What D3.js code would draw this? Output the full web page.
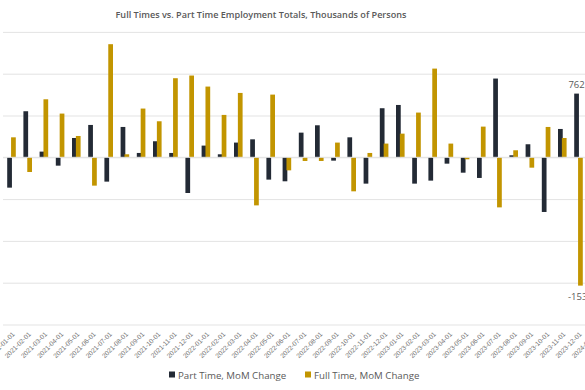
<!DOCTYPE html>
<html>
<head>
<meta charset="utf-8">
<script src="https://cdn.jsdelivr.net/npm/d3@7"></script>
<style>
  html, body { margin: 0; padding: 0; background: #fff; }
  svg { display: block; font-family: "Open Sans", "Noto Sans", sans-serif; }
</style>
</head>
<body>
<svg id="chart" width="585" height="390"></svg>
<script>
// months shown on the category axis
var months = ["2021-01-01","2021-02-01","2021-03-01","2021-04-01","2021-05-01","2021-06-01",
  "2021-07-01","2021-08-01","2021-09-01","2021-10-01","2021-11-01","2021-12-01",
  "2022-01-01","2022-02-01","2022-03-01","2022-04-01","2022-05-01","2022-06-01",
  "2022-07-01","2022-08-01","2022-09-01","2022-10-01","2022-11-01","2022-12-01",
  "2023-01-01","2023-02-01","2023-03-01","2023-04-01","2023-05-01","2023-06-01",
  "2023-07-01","2023-08-01","2023-09-01","2023-10-01","2023-11-01","2023-12-01",
  "2024-01-01"];

// part time, MoM change (thousands)
var partTime = [-363, 551, 68, -100, 231, 387, -291, 363, 52, 192, 52, -427,
  140, 36, 176, 215, -267, -287, 295, 383, -40, 239, -315, 587,
  626, -315, -279, -76, -184, -247, 942, 24, 156, -654, 339, 762];

// full time, MoM change (thousands)
var fullTime = [239, -176, 694, 523, 255, -339, 1353, 36, 583, 431, 946, 978,
  846, 507, 770, -575, 750, -156, -44, -44, 176, -407, 52, 164,
  283, 535, 1061, 164, -24, 367, -599, 84, -124, 363, 231, -1535];

var yTicks = [1500, 1000, 500, 0, -500, -1000, -1500, -2000];

var seriesNames = ["Part Time, MoM Change", "Full Time, MoM Change"];
var colors = ["#232a35", "#c29500"];

var svg = d3.select("#chart");

var x = d3.scaleBand()
    .domain(months)
    .range([3.4, 3.4 + months.length * 16.2])
    .paddingInner(0.47)
    .paddingOuter(0.235);

var y = d3.scaleLinear()
    .domain([-2000, 1500])
    .range([324.5, 31.9]);

var bw = x.bandwidth();
var barW = bw * 0.55;

// title
svg.append("text")
    .attr("x", 261)
    .attr("y", 18)
    .attr("text-anchor", "middle")
    .attr("font-size", 9.1)
    .attr("font-weight", 600)
    .attr("fill", "#595959")
    .text("Full Times vs. Part Time Employment Totals, Thousands of Persons");

// horizontal gridlines
svg.append("g")
    .attr("class", "gridy")
    .attr("transform", "translate(3,0)")
    .call(d3.axisLeft(y).tickValues(yTicks).tickSize(-590).tickFormat(""))
    .call(function (g) { g.select(".domain").remove(); })
    .selectAll("line")
    .attr("stroke", "#e3e3e3")
    .attr("stroke-width", 1);

// bars
var rows = partTime.map(function (d, i) {
    return { month: months[i], pt: d, ft: fullTime[i] };
});

svg.append("g").selectAll("rect")
    .data(rows)
    .join("rect")
    .attr("x", function (d) { return x(d.month); })
    .attr("width", barW)
    .attr("y", function (d) { return y(Math.max(0, d.pt)); })
    .attr("height", function (d) { return Math.abs(y(d.pt) - y(0)); })
    .attr("fill", colors[0]);

svg.append("g").selectAll("rect")
    .data(rows)
    .join("rect")
    .attr("x", function (d) { return x(d.month) + bw - barW; })
    .attr("width", barW)
    .attr("y", function (d) { return y(Math.max(0, d.ft)); })
    .attr("height", function (d) { return Math.abs(y(d.ft) - y(0)); })
    .attr("fill", colors[1]);

// zero line over the bars
svg.append("line")
    .attr("x1", 3).attr("x2", 585)
    .attr("y1", y(0)).attr("y2", y(0))
    .attr("stroke", "#e3e3e3");

// last value labels
var last = rows[rows.length - 1];
svg.append("text")
    .attr("x", x(last.month) + barW / 2)
    .attr("y", y(last.pt) - 6)
    .attr("text-anchor", "middle")
    .attr("font-size", 9.5)
    .attr("fill", "#595959")
    .text(last.pt);
svg.append("text")
    .attr("x", x(last.month) + bw - barW / 2)
    .attr("y", y(last.ft) + 14)
    .attr("text-anchor", "middle")
    .attr("font-size", 9.5)
    .attr("fill", "#595959")
    .text(last.ft);

// x axis labels
svg.append("g")
    .attr("class", "x axis")
    .attr("transform", "translate(0,330)")
    .call(d3.axisBottom(x).tickSize(0).tickPadding(0))
    .call(function (g) { g.select(".domain").remove(); })
    .selectAll("text")
    .attr("font-size", 6.6)
    .attr("fill", "#757575")
    .attr("text-anchor", "end")
    .attr("dy", "0.35em")
    .attr("transform", "translate(2,3) rotate(-45)");

// legend
var legend = svg.append("g").attr("transform", "translate(169,0)");
var legendX = [0, 136];
seriesNames.forEach(function (name, i) {
    legend.append("rect")
        .attr("x", legendX[i]).attr("y", 371.5)
        .attr("width", 6).attr("height", 6)
        .attr("fill", colors[i]);
    legend.append("text")
        .attr("x", legendX[i] + 9).attr("y", 379)
        .attr("font-size", 9.7)
        .attr("fill", "#595959")
        .text(name);
});
</script>
</body>
</html>
